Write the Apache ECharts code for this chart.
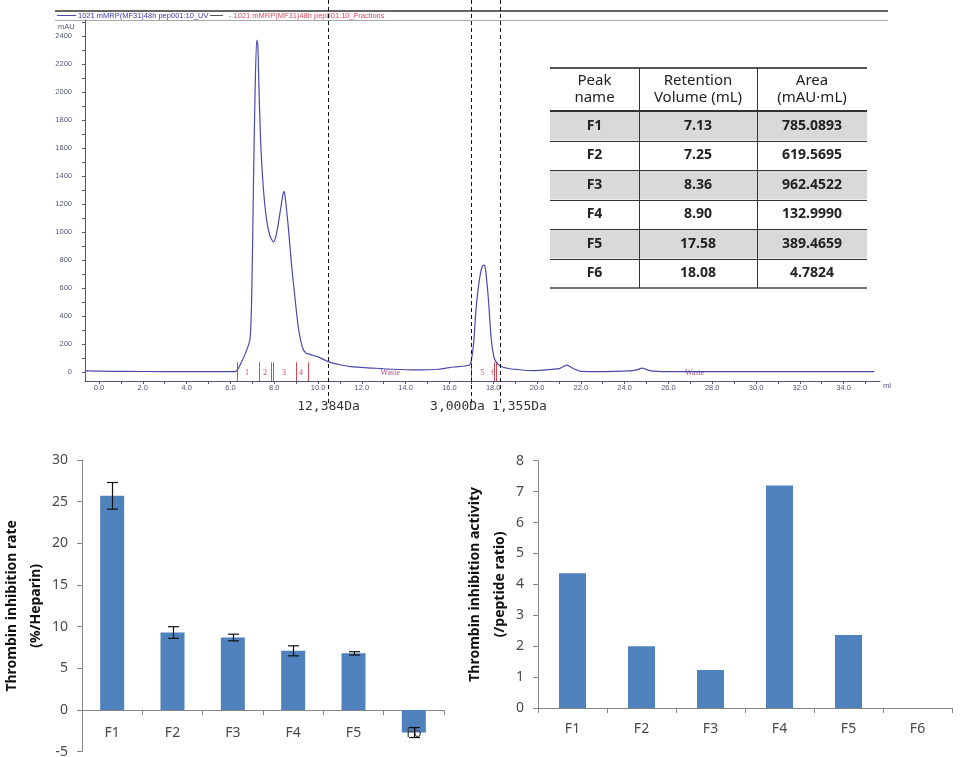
<!DOCTYPE html>
<html><head><meta charset="utf-8">
<script src="https://cdn.jsdelivr.net/npm/echarts@6/dist/echarts.min.js"></script>
<style>html,body{margin:0;padding:0;background:#fff}#c{width:969px;height:757px}</style>
</head><body><div id="c"></div>
<script>
// ---------- Chromatogram (top) ----------
const volumes = [-0.6, 0.5, 2, 4, 6, 6.25, 6.5, 6.75, 6.9, 6.98, 7.05, 7.12, 7.2, 7.25, 7.3, 7.38, 7.5, 7.65, 7.8, 7.96, 8.1, 8.26, 8.4, 8.45, 8.5, 8.64, 8.8, 8.9, 9.1, 9.3, 9.45, 9.6, 9.8, 10.0, 10.47, 11.0, 11.5, 12.5, 13.4, 14.5, 15.5, 16.2, 16.7, 16.95, 17.1, 17.2, 17.3, 17.4, 17.5, 17.58, 17.65, 17.78, 17.9, 18.0, 18.1, 18.3, 18.7, 19.1, 19.8, 20.6, 21.05, 21.35, 21.7, 22.0, 23.0, 24.2, 24.55, 24.8, 25.2, 26.0, 35.4];
const absorbance = [8, 5, 4, 3, 3, 5, 70, 160, 240, 600, 1320, 1950, 2370, 2340, 2050, 1650, 1320, 1090, 975, 930, 985, 1133, 1270, 1290, 1250, 1040, 750, 600, 320, 170, 135, 128, 118, 108, 74, 52, 38, 28, 20, 15, 20, 36, 43, 55, 200, 420, 580, 690, 755, 764, 730, 520, 250, 130, 80, 45, 25, 18, 10, 18, 26, 50, 22, 5, 3, 8, 16, 28, 8, 3, 3];
const xTickLabels = [0, 2, 4, 6, 8, 10, 12, 14, 16, 18, 20, 22, 24, 26, 28, 30, 32, 34];
const xMinorTicks = [0,1,2,3,4,5,6,7,8,9,10,11,12,13,14,15,16,17,18,19,20,21,22,23,24,25,26,27,28,29,30,31,32,33,34,35];
const yTickLabels = [0, 200, 400, 600, 800, 1000, 1200, 1400, 1600, 1800, 2000, 2200, 2400];
const yMinorTicks = [0,100,200,300,400,500,600,700,800,900,1000,1100,1200,1300,1400,1500,1600,1700,1800,1900,2000,2100,2200,2300,2400,2500];
const cutoffVolumes = [10.46, 16.99, 18.31];
const cutoffLabels = ['12,384Da', '3,000Da', '1,355Da'];
const fractionBounds = [6.30, 7.31, 7.85, 7.95, 9.0, 9.54, 16.99, 18.02, 18.12];
const fractionNames = ['1', '2', '3', '4', '5', '6'];
const fractionNamePos = [6.76, 7.58, 8.45, 9.22, 17.5, 18.0];
const wastePos = [13.3, 27.2];
const legendUV = '1021 mMRP(MF31)48h pep001:10_UV';
const legendFr = '1021 mMRP(MF31)48h pep001:10_Fractions';

// ---------- Table ----------
const tableHeaders = ['Peak\nname', 'Retention\nVolume (mL)', 'Area\n(mAU\u00b7mL)'];
const peakNames = ['F1', 'F2', 'F3', 'F4', 'F5', 'F6'];
const retentionVolumes = ['7.13', '7.25', '8.36', '8.90', '17.58', '18.08'];
const peakAreas = ['785.0893', '619.5695', '962.4522', '132.9990', '389.4659', '4.7824'];

// ---------- Bottom bar charts ----------
const fractions = ['F1', 'F2', 'F3', 'F4', 'F5', 'F6'];
const inhibitionRate = [25.7, 9.3, 8.7, 7.1, 6.8, -2.7];
const inhibitionErr = [1.6, 0.7, 0.4, 0.6, 0.2, 0.6];
const inhibitionActivity = [4.36, 2.0, 1.23, 7.2, 2.36, 0];

const BLUE = '#4f81bd';
const AX = '#868686';
const LBL = '#4a4a4a';
const FONT = '"Noto Sans", "Open Sans", sans-serif';
const CH_AX = '#55557a';

const chart = echarts.init(document.getElementById('c'), null, {renderer: 'canvas'});

const option = {
  animation: false,
  backgroundColor: '#ffffff',
  grid: [
    {left: 85, top: 20, width: 795, height: 361, outerBoundsMode: 'none', containLabel: false},
    {left: 82, top: 460, width: 362, height: 291.7, outerBoundsMode: 'none', containLabel: false},
    {left: 538, top: 460.7, width: 414, height: 247.3, outerBoundsMode: 'none', containLabel: false}
  ],
  xAxis: [
    {
      gridIndex: 0, type: 'value', min: -0.64, max: 35.66,
      axisLine: {show: true, onZero: false, lineStyle: {color: CH_AX, width: 1}},
      axisTick: {show: true, customValues: xMinorTicks, length: 3, lineStyle: {color: CH_AX}},
      axisLabel: {show: true, customValues: xTickLabels, formatter: v => v.toFixed(1), fontSize: 7.5, color: CH_AX, margin: 3, fontFamily: 'Liberation Sans'},
      splitLine: {show: false}
    },
    {
      gridIndex: 1, type: 'category', data: fractions,
      axisLine: {show: true, onZero: true, lineStyle: {color: AX, width: 1}},
      axisTick: {show: true, alignWithLabel: false, interval: 0, length: 5, lineStyle: {color: AX}},
      axisLabel: {show: false},
      splitLine: {show: false}
    },
    {
      gridIndex: 2, type: 'category', data: fractions,
      axisLine: {show: true, onZero: true, lineStyle: {color: AX, width: 1}},
      axisTick: {show: true, alignWithLabel: false, interval: 0, length: 5, lineStyle: {color: AX}},
      axisLabel: {show: true, interval: 0, fontSize: 14, color: LBL, margin: 14, fontFamily: FONT},
      splitLine: {show: false}
    },
    {
      gridIndex: 1, type: 'category', data: fractions, position: 'bottom', z: 20,
      axisLine: {show: false, onZero: false},
      axisTick: {show: false},
      axisLabel: {show: true, interval: 0, fontSize: 14, color: LBL, margin: -26, fontFamily: FONT},
      splitLine: {show: false}
    }
  ],
  yAxis: [
    {
      gridIndex: 0, type: 'value', min: -64, max: 2514,
      axisLine: {show: true, onZero: false, lineStyle: {color: CH_AX, width: 1}},
      axisTick: {show: true, customValues: yMinorTicks, length: 3, lineStyle: {color: CH_AX}},
      axisLabel: {show: true, customValues: yTickLabels, formatter: v => String(v), fontSize: 7.5, color: CH_AX, margin: 13, fontFamily: 'Liberation Sans'},
      splitLine: {show: false}
    },
    {
      gridIndex: 1, type: 'value', min: -5, max: 30, interval: 5,
      name: 'Thrombin inhibition rate\n(%/Heparin)', nameLocation: 'middle', nameRotate: 90, nameGap: 33,
      nameTextStyle: {fontSize: 14, fontWeight: 'bold', color: '#111', lineHeight: 24, fontFamily: FONT},
      axisLine: {show: true, lineStyle: {color: AX, width: 1}},
      axisTick: {show: true, length: 5, lineStyle: {color: AX}},
      axisLabel: {show: true, fontSize: 14, color: LBL, margin: 14, fontFamily: FONT},
      splitLine: {show: false}
    },
    {
      gridIndex: 2, type: 'value', min: 0, max: 8, interval: 1,
      name: 'Thrombin inhibition activity\n(/peptide ratio)', nameLocation: 'middle', nameRotate: 90, nameGap: 24,
      nameTextStyle: {fontSize: 14, fontWeight: 'bold', color: '#111', lineHeight: 25, fontFamily: FONT},
      axisLine: {show: true, lineStyle: {color: AX, width: 1}},
      axisTick: {show: true, length: 5, lineStyle: {color: AX}},
      axisLabel: {show: true, fontSize: 14, color: LBL, margin: 14, fontFamily: FONT},
      splitLine: {show: false}
    }
  ],
  series: [
    {
      type: 'line', xAxisIndex: 0, yAxisIndex: 0,
      data: volumes.map((v, i) => [v, absorbance[i]]),
      showSymbol: false, smooth: 0.25,
      lineStyle: {color: '#4a4aac', width: 1.2}, z: 5
    },
    {
      type: 'custom', xAxisIndex: 0, yAxisIndex: 0,
      data: fractionBounds.map(v => [v]),
      renderItem: (params, api) => {
        const p1 = api.coord([api.value(0), 70]);
        const p2 = api.coord([api.value(0), -64]);
        return {type: 'line', shape: {x1: Math.round(p1[0]) + 0.5, y1: p1[1], x2: Math.round(p1[0]) + 0.5, y2: p2[1]},
          style: {stroke: '#d84a5a', lineWidth: 1}};
      }, z: 4
    },
    {
      type: 'custom', xAxisIndex: 0, yAxisIndex: 0,
      data: fractionNamePos.map((v, i) => [v, fractionNames[i]]),
      renderItem: (params, api) => {
        const p = api.coord([api.value(0), -8]);
        return {type: 'text', x: p[0], y: p[1],
          style: {text: fractionNames[params.dataIndex], fill: '#d84a5a', fontSize: 8, fontFamily: 'Liberation Serif', align: 'center', verticalAlign: 'middle'}};
      }, z: 4
    },
    {
      type: 'custom', xAxisIndex: 0, yAxisIndex: 0,
      data: wastePos.map(v => [v]),
      renderItem: (params, api) => {
        const p = api.coord([api.value(0), -8]);
        return {type: 'text', x: p[0], y: p[1],
          style: {text: 'Waste', fill: '#b0508a', fontSize: 8, fontFamily: 'Liberation Serif', align: 'center', verticalAlign: 'middle'}};
      }, z: 4
    },
    {
      type: 'bar', xAxisIndex: 1, yAxisIndex: 1, data: inhibitionRate, barWidth: 24,
      itemStyle: {color: BLUE}
    },
    {
      type: 'custom', xAxisIndex: 1, yAxisIndex: 1,
      data: inhibitionRate.map((v, i) => [i, v, inhibitionErr[i]]),
      renderItem: (params, api) => {
        const i = api.value(0), m = api.value(1), e = api.value(2);
        const top = api.coord([i, m + e]);
        const bot = api.coord([i, m - e]);
        const x = Math.round(top[0]) + 0.5, w = 5.5;
        const st = {stroke: '#111', lineWidth: 1.2};
        return {type: 'group', children: [
          {type: 'line', shape: {x1: x, y1: top[1], x2: x, y2: bot[1]}, style: st},
          {type: 'line', shape: {x1: x - w, y1: top[1], x2: x + w, y2: top[1]}, style: st},
          {type: 'line', shape: {x1: x - w, y1: bot[1], x2: x + w, y2: bot[1]}, style: st}
        ]};
      }, z: 30
    },
    {
      type: 'bar', xAxisIndex: 2, yAxisIndex: 2, data: inhibitionActivity, barWidth: 27,
      itemStyle: {color: BLUE}
    }
  ]
};
chart.setOption(option);

// ---------- Graphics: header, labels, cutoffs, table ----------
const g = [];
g.push({type: 'line', shape: {x1: 55, y1: 11, x2: 888, y2: 11}, style: {stroke: '#333', lineWidth: 1.5}});
g.push({type: 'line', shape: {x1: 55, y1: 20.5, x2: 888, y2: 20.5}, style: {stroke: '#aaaaaa', lineWidth: 1}});
g.push({type: 'line', shape: {x1: 57, y1: 15.5, x2: 76, y2: 15.5}, style: {stroke: '#4a4aac', lineWidth: 1}});
g.push({type: 'text', x: 78, y: 16, style: {text: legendUV, fill: '#3a3ab0', fontSize: 7.5, fontFamily: 'Liberation Sans', verticalAlign: 'middle'}});
g.push({type: 'line', shape: {x1: 210, y1: 15.5, x2: 223, y2: 15.5}, style: {stroke: '#555', lineWidth: 1}});
g.push({type: 'text', x: 229, y: 16, style: {text: '- ' + legendFr, fill: '#d84a5a', fontSize: 7.5, fontFamily: 'Liberation Sans', verticalAlign: 'middle'}});
g.push({type: 'text', x: 58, y: 27, style: {text: 'mAU', fill: CH_AX, fontSize: 7.5, fontFamily: 'Liberation Sans', verticalAlign: 'middle'}});
g.push({type: 'text', x: 883, y: 386, style: {text: 'ml', fill: CH_AX, fontSize: 7.5, fontFamily: 'Liberation Sans', verticalAlign: 'middle'}});
const cutoffShift = [0, -14, 19];
cutoffVolumes.forEach((v, i) => {
  const x = Math.round(chart.convertToPixel({xAxisIndex: 0}, v)) + 0.5;
  g.push({type: 'line', z: 50, shape: {x1: x, y1: 0, x2: x, y2: 403}, style: {stroke: '#111', lineWidth: 1, lineDash: [4, 3]}});
  g.push({type: 'text', z: 50, x: x + cutoffShift[i], y: 407, style: {text: cutoffLabels[i], fill: '#333', fontSize: 13, fontFamily: '"DejaVu Sans Mono", monospace', align: 'center', verticalAlign: 'middle'}});
});
const colX = [550, 639, 757, 867];
const tTop = 68, hBot = 111, rowH = 29.5;
const tBot = hBot + rowH * peakNames.length;
peakNames.forEach((n, i) => {
  if (i % 2 === 0) {
    g.push({type: 'rect', z: 20, shape: {x: colX[0], y: hBot + i * rowH, width: colX[3] - colX[0], height: rowH}, style: {fill: '#d9d9d9'}});
  }
});
for (let i = 1; i < peakNames.length; i++) {
  const y = Math.round(hBot + i * rowH) + 0.5;
  g.push({type: 'line', z: 21, shape: {x1: colX[0], y1: y, x2: colX[3], y2: y}, style: {stroke: '#333', lineWidth: 1}});
}
g.push({type: 'line', z: 21, shape: {x1: colX[0], y1: tTop, x2: colX[3], y2: tTop}, style: {stroke: '#555', lineWidth: 2}});
g.push({type: 'line', z: 21, shape: {x1: colX[0], y1: hBot, x2: colX[3], y2: hBot}, style: {stroke: '#333', lineWidth: 2}});
g.push({type: 'line', z: 21, shape: {x1: colX[0], y1: tBot, x2: colX[3], y2: tBot}, style: {stroke: '#444', lineWidth: 1.5}});
[colX[1], colX[2]].forEach(x => {
  g.push({type: 'line', z: 21, shape: {x1: x + 0.5, y1: tTop, x2: x + 0.5, y2: tBot}, style: {stroke: '#333', lineWidth: 1}});
});
const cellFont = {fontSize: 14, fontWeight: 'bold', fontFamily: FONT, fill: '#222', align: 'center', verticalAlign: 'middle'};
const headFont = {fontSize: 15, fontWeight: 'normal', fontFamily: FONT, fill: '#222', align: 'center', verticalAlign: 'middle', lineHeight: 17};
tableHeaders.forEach((h, c) => {
  g.push({type: 'text', z: 22, x: (colX[c] + colX[c + 1]) / 2, y: (tTop + hBot) / 2, style: Object.assign({text: h}, headFont)});
});
peakNames.forEach((n, i) => {
  const y = hBot + (i + 0.5) * rowH;
  [n, retentionVolumes[i], peakAreas[i]].forEach((t, c) => {
    g.push({type: 'text', z: 22, x: (colX[c] + colX[c + 1]) / 2, y: y, style: Object.assign({text: t}, cellFont)});
  });
});
chart.setOption({graphic: {elements: g}});
</script>
</body></html>
